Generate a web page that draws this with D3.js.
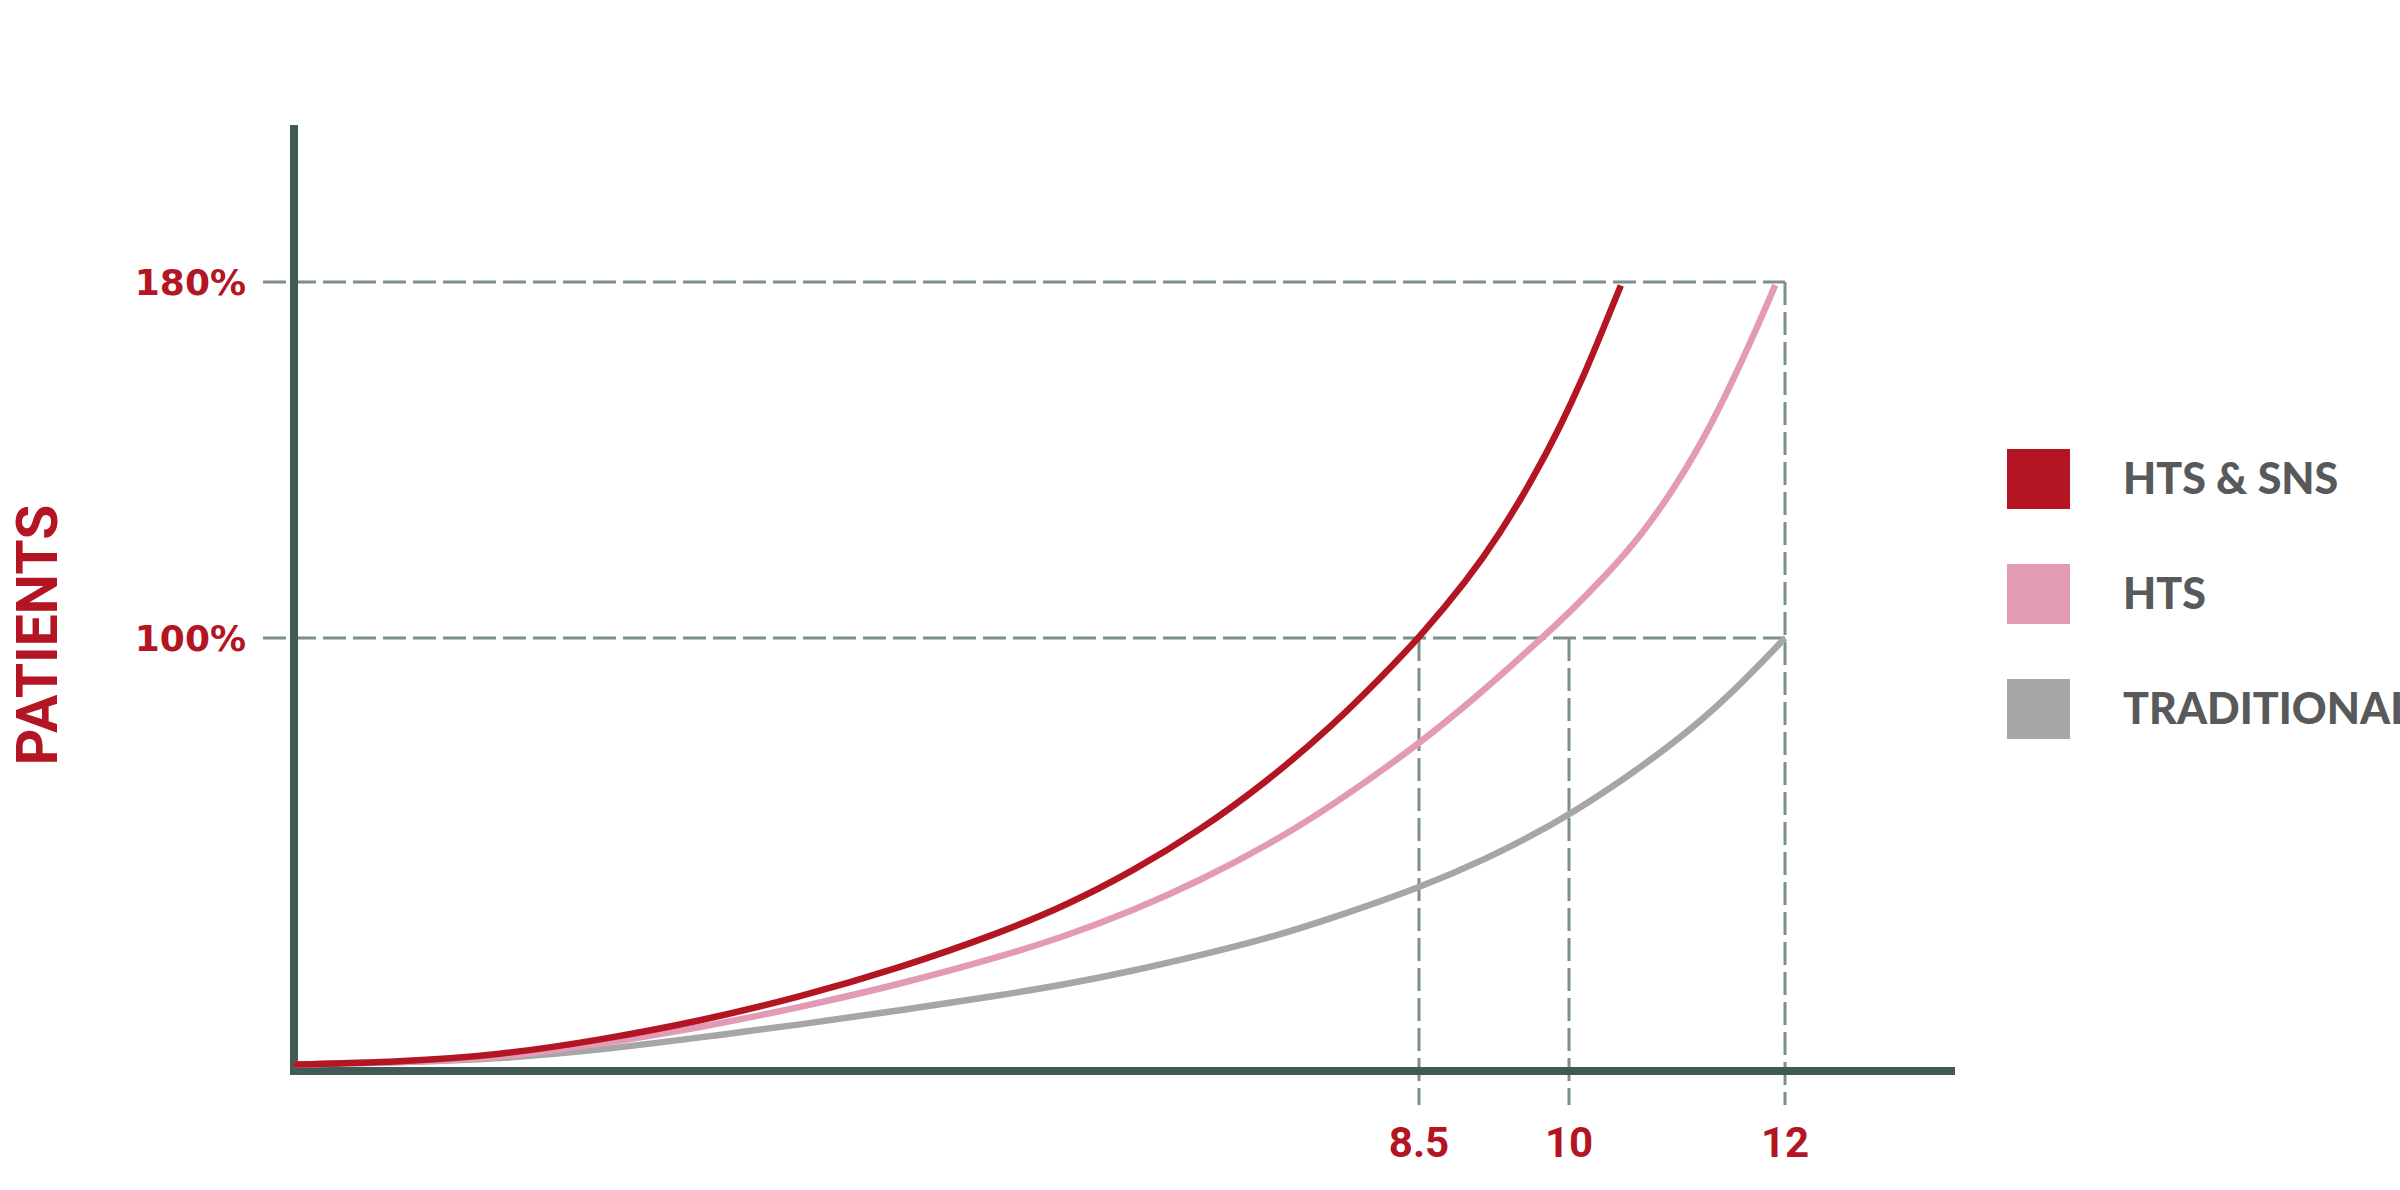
<!DOCTYPE html>
<html>
<head>
<meta charset="utf-8">
<script src="https://cdn.jsdelivr.net/npm/d3@7"></script>
<style>
  html, body { margin: 0; padding: 0; background: #fff; }
  svg { display: block; }
</style>
</head>
<body>
<svg id="chart" width="2400" height="1190"></svg>
<script>
// series (x = months, y = % patients)
const seriesNames = ["HTS & SNS", "HTS", "TRADITIONAL"];

const htsSnsX = [0, 0.8, 1.556, 2.312, 3.068, 3.823, 4.579, 5.334, 5.841, 6.339, 6.846, 7.352, 7.85, 8.228, 8.5, 8.98, 9.31, 9.64, 9.91, 10.13, 10.31, 10.48];
const htsSnsY = [0.8, 1.4, 3.0, 6.5, 10.9, 16.5, 23.3, 31.4, 37.9, 45.8, 55.3, 66.6, 79.7, 91.3, 100, 112.9, 123.5, 135.8, 147.4, 158.5, 169.1, 179.2];

const htsX = [0, 0.8, 1.556, 2.312, 3.068, 3.823, 4.579, 5.334, 5.841, 6.339, 6.846, 7.352, 7.85, 8.5, 9.1, 9.73, 10.04, 10.35, 10.66, 10.96, 11.21, 11.46, 11.7, 11.91];
const htsY = [0.8, 1.3, 2.3, 5.6, 9.4, 14.1, 19.5, 25.8, 30.8, 36.6, 43.6, 51.7, 61.1, 75.3, 86.8, 100, 106.6, 114.3, 122.8, 133.1, 143.1, 154.9, 167.5, 179.3];

const tradX = [0, 0.8, 1.556, 2.312, 3.068, 3.823, 4.579, 5.334, 5.841, 6.339, 6.846, 7.352, 7.85, 8.5, 9.12, 10, 11, 11.5, 12];
const tradY = [0.8, 1.3, 2.1, 4.2, 7.1, 10.1, 13.4, 16.9, 19.5, 22.6, 26.2, 30.1, 34.9, 41.9, 48.0, 58.3, 75.8, 86.9, 100];

const xTicks = [8.5, 10, 12];
const xTickLabels = ["8.5", "10", "12"];
const xGuideTop = [100, 100, 180];   // where each vertical guide starts
const yTicks = [100, 180];
const yTickLabels = ["100%", "180%"];

const colors = ["#b31523", "#e39ab4", "#a6a6a6"];
const red = "#b31523";
const axisColor = "#405a56";
const guideColor = "#7b8f8b";

const svg = d3.select("#chart");

// the drawing is not to scale, so both scales are piecewise
const x = d3.scaleLinear()
    .domain([0, 8.5, 10, 12, 13.6])
    .range([294, 1419, 1569, 1785, 1955]);
const y = d3.scaleLinear()
    .domain([0, 100, 180])
    .range([1068, 638, 282]);

let guide_g = svg.append("g").attr("class", "guides");

// horizontal dashed guides
guide_g.selectAll(".hguide")
    .data(yTicks)
    .enter()
    .append("line")
    .attr("class", "hguide")
    .attr("x1", x(0) - 31)
    .attr("x2", x(12))
    .attr("y1", d => y(d))
    .attr("y2", d => y(d))
    .attr("stroke", guideColor)
    .attr("stroke-width", 3)
    .attr("stroke-dasharray", "23 7");

// vertical dashed guides
guide_g.selectAll(".vguide")
    .data(xTicks)
    .enter()
    .append("line")
    .attr("class", "vguide")
    .attr("x1", d => x(d))
    .attr("x2", d => x(d))
    .attr("y1", (d, i) => y(xGuideTop[i]))
    .attr("y2", y(0) + 37)
    .attr("stroke", guideColor)
    .attr("stroke-width", 3)
    .attr("stroke-dasharray", "23 7");

// axes
svg.append("line")
    .attr("x1", x(0))
    .attr("x2", x(0))
    .attr("y1", 125)
    .attr("y2", y(0) + 7)
    .attr("stroke", axisColor)
    .attr("stroke-width", 8);
svg.append("line")
    .attr("x1", x(0) - 4)
    .attr("x2", x(13.6))
    .attr("y1", y(0) + 3)
    .attr("y2", y(0) + 3)
    .attr("stroke", axisColor)
    .attr("stroke-width", 8);

// curves (basis smooths out the reading noise, ends stay put)
const line = d3.line()
    .x(d => x(d[0]))
    .y(d => y(d[1]))
    .curve(d3.curveBasis);

const series = [
    d3.zip(htsSnsX, htsSnsY),
    d3.zip(htsX, htsY),
    d3.zip(tradX, tradY)
];

// draw back to front so the red sits on top
svg.append("g")
    .attr("class", "curves")
    .selectAll("path")
    .data(series.map((s, i) => ({ pts: s, i: i })).reverse())
    .enter()
    .append("path")
    .attr("d", d => line(d.pts))
    .attr("fill", "none")
    .attr("stroke", d => colors[d.i])
    .attr("stroke-width", 6.5);

// tick labels
svg.selectAll(".ylabel")
    .data(yTicks)
    .enter()
    .append("text")
    .attr("class", "ylabel")
    .attr("x", 246)
    .attr("y", d => y(d) + 13)
    .attr("text-anchor", "end")
    .attr("font-family", "'DejaVu Sans', sans-serif")
    .attr("font-weight", 700)
    .attr("font-size", 36)
    .attr("fill", red)
    .text((d, i) => yTickLabels[i]);

svg.selectAll(".xlabel")
    .data(xTicks)
    .enter()
    .append("text")
    .attr("class", "xlabel")
    .attr("x", d => x(d))
    .attr("y", 1157)
    .attr("text-anchor", "middle")
    .attr("font-family", "Roboto, sans-serif")
    .attr("font-weight", 700)
    .attr("font-size", 42)
    .attr("fill", red)
    .text((d, i) => xTickLabels[i]);

svg.append("text")
    .attr("transform", "translate(57,635) rotate(-90)")
    .attr("text-anchor", "middle")
    .attr("font-family", "Roboto, sans-serif")
    .attr("font-weight", 700)
    .attr("font-size", 57)
    .attr("fill", red)
    .text("PATIENTS");

// legend
let legend = svg.append("g")
    .attr("class", "legend")
    .attr("transform", "translate(2007,449)");

let items = legend.selectAll(".item")
    .data(seriesNames)
    .enter()
    .append("g")
    .attr("class", "item")
    .attr("transform", (d, i) => `translate(0,${i * 115})`);

items.append("rect")
    .attr("width", 63)
    .attr("height", 60)
    .attr("fill", (d, i) => colors[i]);

items.append("text")
    .attr("x", 116)
    .attr("y", 45)
    .attr("font-family", "Lato, 'Open Sans', sans-serif")
    .attr("font-weight", 900)
    .attr("font-size", 43)
    .attr("fill", "#58595b")
    .text(d => d);
</script>
</body>
</html>
